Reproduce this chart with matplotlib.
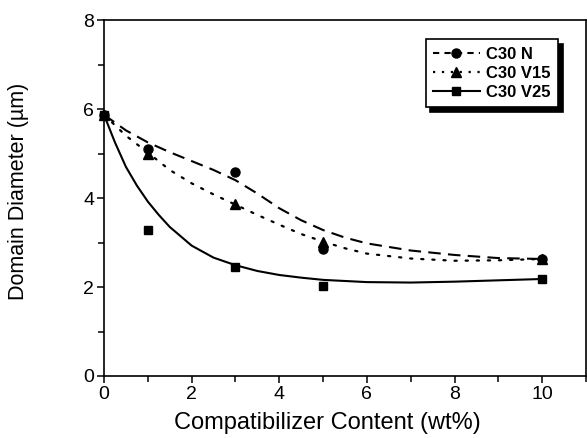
import matplotlib
matplotlib.use("Agg")
import matplotlib.pyplot as plt
from matplotlib.lines import Line2D
from matplotlib.ticker import MultipleLocator

plt.rcParams['font.family'] = ['Liberation Sans', 'DejaVu Sans']

# measured data points
x_pts = [0, 1, 3, 5, 10]
n_pts = [5.87, 5.10, 4.59, 2.85, 2.63]
v15_pts = [5.87, 4.99, 3.86, 3.02, 2.64]
v25_pts = [5.87, 3.28, 2.44, 2.02, 2.18]

# fitted curves
n_cx = [0, 0.5, 1, 1.5, 2, 2.5, 3, 3.5, 4, 4.5, 5, 5.5, 6, 7, 8, 9, 10]
n_cy = [5.87, 5.52, 5.25, 5.03, 4.83, 4.63, 4.40, 4.10, 3.77, 3.50, 3.28, 3.11, 2.98, 2.82, 2.72, 2.65, 2.63]

v15_cx = [0, 0.5, 1, 1.5, 2, 2.5, 3, 3.5, 4, 4.5, 5, 5.5, 6, 7, 8, 9, 10]
v15_cy = [5.87, 5.40, 5.02, 4.63, 4.33, 4.08, 3.85, 3.62, 3.40, 3.19, 3.02, 2.87, 2.75, 2.64, 2.59, 2.60, 2.63]

v25_cx = [0, 0.25, 0.5, 0.75, 1, 1.25, 1.5, 2, 2.5, 3, 3.5, 4, 4.5, 5, 6, 7, 8, 9, 10]
v25_cy = [5.87, 5.25, 4.70, 4.28, 3.92, 3.62, 3.35, 2.93, 2.66, 2.49, 2.36, 2.27, 2.21, 2.16, 2.11, 2.10, 2.12, 2.15, 2.18]

labels = ['C30 N', 'C30 V15', 'C30 V25']

fig = plt.figure(figsize=(5.87, 4.38), dpi=100)
ax = fig.add_axes([104/587, 62/438, 482/587, 356/438])

ax.plot(n_cx, n_cy, color='black', lw=1.5, linestyle=(0, (6, 3.5)), solid_capstyle='butt')
ax.plot(v15_cx, v15_cy, color='black', lw=1.6, linestyle=(0, (1, 4)), dash_capstyle='round')
ax.plot(v25_cx, v25_cy, color='black', lw=1.5)

ax.plot(x_pts, n_pts, 'o', color='black', ms=6.5, clip_on=False)
ax.plot(x_pts, v15_pts, '^', color='black', ms=7, clip_on=False)
ax.plot(x_pts, v25_pts, 's', color='black', ms=5.5, clip_on=False)

ax.set_xlim(0, 11)
ax.set_ylim(0, 8)
ax.xaxis.set_major_locator(MultipleLocator(2))
ax.xaxis.set_minor_locator(MultipleLocator(1))
ax.yaxis.set_major_locator(MultipleLocator(2))
ax.yaxis.set_minor_locator(MultipleLocator(1))
ax.tick_params(which='major', direction='out', length=5, width=1.1, labelsize=14, pad=2)
ax.tick_params(which='minor', direction='out', length=4, width=1.1)
for s in ax.spines.values():
    s.set_linewidth(1.2)

ax.set_xlabel('Compatibilizer Content (wt%)', fontsize=17)
ax.xaxis.set_label_coords(0.464, -0.1)
ax.set_ylabel('Domain Diameter (µm)', fontsize=15.5)
ax.yaxis.set_label_coords(-0.155, 0.52)

handles = [
    Line2D([], [], color='black', lw=1.5, linestyle=(0, (3, 2.5)), marker='o', ms=6.5),
    Line2D([], [], color='black', lw=1.6, linestyle=(0, (1, 3)), marker='^', ms=7),
    Line2D([], [], color='black', lw=1.5, marker='s', ms=5.5),
]
leg = ax.legend(handles, labels, loc='upper right', bbox_to_anchor=(0.96, 0.97),
                frameon=True, fancybox=False, edgecolor='black', framealpha=1,
                prop={'weight': 'bold', 'size': 12}, handlelength=2.8,
                borderpad=0.45, labelspacing=0.25, handletextpad=0.4,
                shadow={'ox': 3.5, 'oy': -3.5, 'color': 'black', 'alpha': 1})
leg.get_frame().set_linewidth(1.2)

fig.savefig('out.png', dpi=100)
